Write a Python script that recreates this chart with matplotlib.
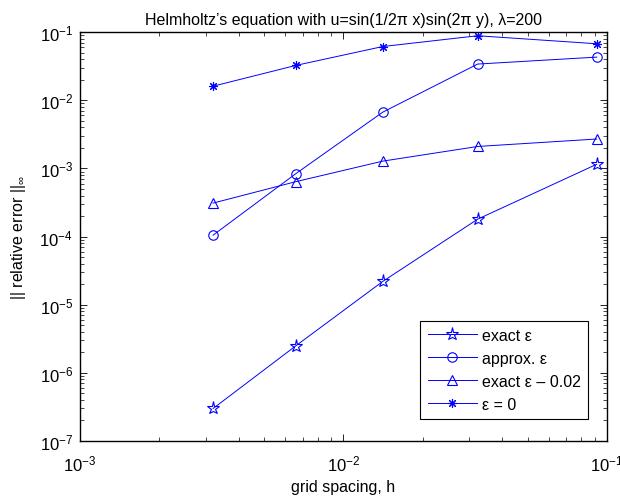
import matplotlib
matplotlib.use("Agg")
import matplotlib.pyplot as plt
from matplotlib.ticker import LogLocator, NullFormatter

plt.rcParams['font.family'] = ['Liberation Sans', 'DejaVu Sans']
plt.rcParams['mathtext.fontset'] = 'custom'
plt.rcParams['mathtext.rm'] = 'Liberation Sans'
plt.rcParams['mathtext.it'] = 'Liberation Sans'

h = [0.0032, 0.0066, 0.0141, 0.0323, 0.0914]
exact_eps = [3.0e-7, 2.5e-6, 2.2e-5, 1.8e-4, 1.15e-3]
approx_eps = [1.05e-4, 8.4e-4, 6.7e-3, 0.034, 0.043]
exact_eps_002 = [3.1e-4, 6.4e-4, 1.28e-3, 2.1e-3, 2.7e-3]
eps_zero = [0.0161, 0.0325, 0.0615, 0.0885, 0.0675]

labels = ['exact \u03b5', 'approx. \u03b5', 'exact \u03b5 \u2013 0.02', '\u03b5 = 0']

fig = plt.figure(figsize=(6.2, 5.02), dpi=100)
ax = fig.add_axes([0.129, 0.1195, 0.850, 0.8145])

blue = (0, 0, 1)
lw = 0.7
ax.loglog(h, exact_eps, color=blue, lw=lw, marker='*', ms=9.5, mfc='none', mec=blue, mew=0.8, label=labels[0])
ax.loglog(h, approx_eps, color=blue, lw=lw, marker='o', ms=6.8, mfc='none', mec=blue, mew=0.8, label=labels[1])
ax.loglog(h, exact_eps_002, color=blue, lw=lw, marker='^', ms=7.5, mfc='none', mec=blue, mew=0.8, label=labels[2])
ax.loglog(h, eps_zero, color=blue, lw=lw, marker=(8, 2, 0), ms=6.5, mfc='none', mec=blue, mew=0.8, label=labels[3])

ax.set_xlim(1e-3, 1e-1)
ax.set_ylim(1e-7, 1e-1)
ax.xaxis.set_major_locator(LogLocator(base=10, numticks=10))
ax.yaxis.set_major_locator(LogLocator(base=10, numticks=10))
ax.xaxis.set_minor_locator(LogLocator(base=10, subs=range(2, 10), numticks=20))
ax.yaxis.set_minor_locator(LogLocator(base=10, subs=range(2, 10), numticks=20))
ax.xaxis.set_minor_formatter(NullFormatter())
ax.yaxis.set_minor_formatter(NullFormatter())
ax.tick_params(which='both', direction='in', top=True, right=True, labelsize=12)
ax.tick_params(axis='x', which='major', pad=9)
ax.tick_params(axis='y', which='major', pad=5)
ax.tick_params(which='major', length=5, width=0.6)
ax.tick_params(which='minor', length=3, width=0.5)
for s in ax.spines.values():
    s.set_linewidth(1.0)

ax.set_xlabel('grid spacing, h', fontsize=11.5, labelpad=4)
ax.set_ylabel('|| relative error ||$_{\\infty}$', fontsize=11.5, labelpad=8)
ax.set_title('Helmholtz\u2019s equation with u=sin(1/2\u03c0 x)sin(2\u03c0 y), \u03bb=200', fontsize=11.5, pad=6)

leg = ax.legend(loc='lower right', bbox_to_anchor=(0.964, 0.054), fontsize=11.5, fancybox=False,
                edgecolor='black', framealpha=1, handlelength=3.1, borderpad=0.45,
                labelspacing=0.5, handletextpad=0.3, borderaxespad=0)
leg.get_frame().set_linewidth(0.8)

fig.savefig('out.png', dpi=100)
